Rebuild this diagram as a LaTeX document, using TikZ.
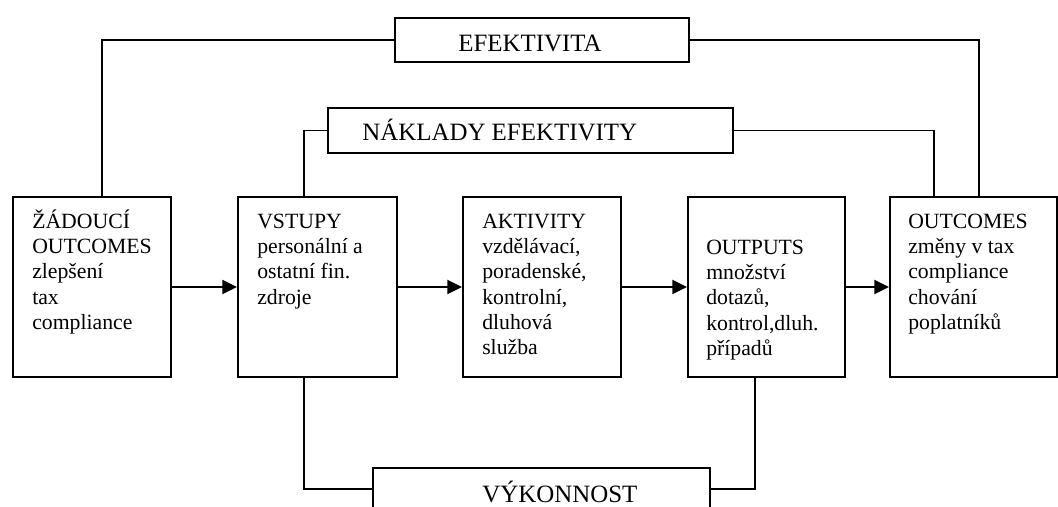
\documentclass[tikz,border=0pt]{standalone}
\usepackage{fontspec}
\setmainfont{Liberation Serif}
\usetikzlibrary{arrows.meta,calc}
% tall strut so that accented capitals do not shift the first line
\newcommand\firstline{\rule{0pt}{15pt}}
\begin{document}
\begin{tikzpicture}[x=0.75pt,y=-0.75pt,
  stage/.style={draw, line width=1.5pt, inner sep=0pt, anchor=north west,
                minimum width=#1, minimum height=135pt},
  banner/.style={draw, line width=1.5pt, inner sep=0pt, anchor=north west},
  wire/.style={line width=1.2pt},
  flow/.style={line width=1.6pt, -{Triangle[length=11pt,width=10.5pt]}},
  body/.style={inner sep=0pt, anchor=north west, align=left,
               font=\fontsize{16.3pt}{19pt}\selectfont},
  tag/.style={inner sep=0pt, anchor=base west,
              font=\fontsize{18.7pt}{22pt}\selectfont}]
\useasboundingbox (0,0) rectangle (1058,507);

% stage boxes
\node[stage=118.5pt] (zad) at (12,196) {};
\node[stage=119.25pt] (vst) at (237,196) {};
\node[stage=118.5pt] (akt) at (462,196) {};
\node[stage=117.75pt] (out) at (687,196) {};
\node[stage=125.25pt] (res) at (889,196) {};

% stage texts
\node[body] (tzad) at (32,208) {\firstline ŽÁDOUCÍ\\OUTCOMES\\zlepšení\\tax\\compliance};
\node[body] (tvst) at (257,208) {\firstline VSTUPY\\personální a\\ostatní fin.\\zdroje};
\node[body] (takt) at (482,208) {\firstline AKTIVITY\\vzdělávací,\\poradenské,\\kontrolní,\\dluhová\\služba};
\node[body] (tout) at (706,234) {\firstline OUTPUTS\\množství\\dotazů,\\kontrol,dluh.\\případů};
\node[body] (tres) at (908,208) {\firstline OUTCOMES\\změny v tax\\compliance\\chování\\poplatníků};

% banner boxes
\node[banner, minimum width=220.5pt, minimum height=33pt] (ef) at (394,17) {};
\node[banner, minimum width=303.75pt, minimum height=33.75pt] (nak) at (327,107) {};
\node[banner, minimum width=252.75pt, minimum height=31.5pt] (vyk) at (372,467) {};

\node[tag] (tef) at (458,51) {EFEKTIVITA};
\node[tag] (tnak) at (362,140) {NÁKLADY EFEKTIVITY};
\node[tag] (tvyk) at (482,502) {VÝKONNOST};

% main flow
\draw[flow] (zad.east) -- (vst.west);
\draw[flow] (vst.east) -- (akt.west);
\draw[flow] (akt.east) -- (out.west);
\draw[flow] (out.east) -- (res.west);

% feedback loops
\draw[wire] ($(zad.north west)+(90,0)$) |- (ef.west);
\draw[wire] (ef.east) -| ($(res.north west)+(90,0)$);
\draw[wire] ($(vst.north west)+(67,0)$) |- (nak.west);
\draw[wire] (nak.east) -| ($(res.north west)+(45,0)$);
\draw[wire] ($(vst.south west)+(67,0)$) |- (vyk.west);
\draw[wire] (vyk.east) -| ($(out.south west)+(68,0)$);
\end{tikzpicture}
\end{document}
